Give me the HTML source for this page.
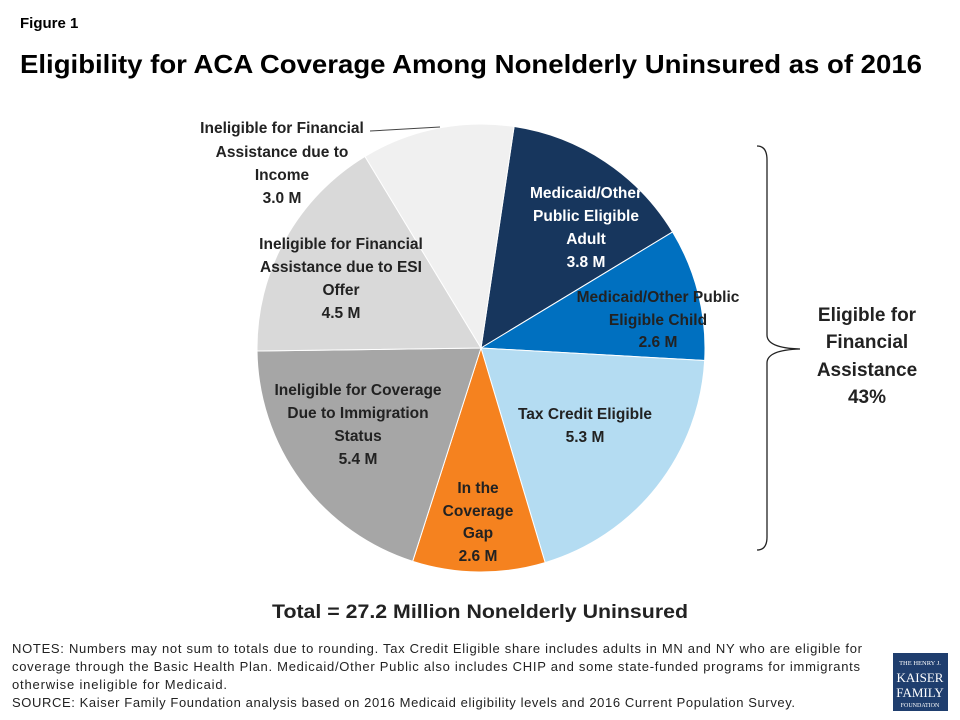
<!DOCTYPE html>
<html><head><meta charset="utf-8"><style>
html,body{margin:0;padding:0;background:#fff;}
body{width:960px;height:720px;position:relative;overflow:hidden;font-family:"Liberation Sans",Arial,sans-serif;}
</style></head><body>
<svg id="s" width="960" height="720" style="position:absolute;left:0;top:0" font-family="Liberation Sans, Arial, sans-serif">
<text x="20" y="28" font-size="15" font-weight="bold">Figure 1</text>
<text x="20" y="73" font-size="26" font-weight="bold" textLength="902" lengthAdjust="spacingAndGlyphs">Eligibility for ACA Coverage Among Nonelderly Uninsured as of 2016</text>
<g id="pie"></g>
<line x1="370" y1="131" x2="440" y2="127" stroke="#444" stroke-width="1"/>
<path d="M757,146 Q767,146 767,160 L767,335 Q767,348 800,349 Q767,350 767,363 L767,537 Q767,550 757,550" fill="none" stroke="#222" stroke-width="1.3"/>
<g font-size="15.5" font-weight="bold" text-anchor="middle" fill="#222">
<text x="282" y="133">Ineligible for Financial</text>
<text x="282" y="157">Assistance due to</text>
<text x="282" y="180">Income</text>
<text x="282" y="203">3.0 M</text>
<text x="341" y="249">Ineligible for Financial</text>
<text x="341" y="272">Assistance due to ESI</text>
<text x="341" y="295">Offer</text>
<text x="341" y="318">4.5 M</text>
<text x="358" y="395">Ineligible for Coverage</text>
<text x="358" y="418">Due to Immigration</text>
<text x="358" y="441">Status</text>
<text x="358" y="464">5.4 M</text>
<text x="478" y="493">In the</text>
<text x="478" y="516">Coverage</text>
<text x="478" y="538">Gap</text>
<text x="478" y="561">2.6 M</text>
<text x="585" y="419">Tax Credit Eligible</text>
<text x="585" y="442">5.3 M</text>
<g fill="#fff">
<text x="586" y="198">Medicaid/Other</text>
<text x="586" y="221">Public Eligible</text>
<text x="586" y="244">Adult</text>
<text x="586" y="267">3.8 M</text>
</g>
<text x="658" y="302">Medicaid/Other Public</text>
<text x="658" y="325">Eligible Child</text>
<text x="658" y="347">2.6 M</text>
</g>
<g font-size="19" font-weight="bold" text-anchor="middle" fill="#222">
<text x="867" y="321">Eligible for</text>
<text x="867" y="348">Financial</text>
<text x="867" y="376">Assistance</text>
<text x="867" y="403">43%</text>
</g>
<text x="272" y="618" font-size="19" font-weight="bold" fill="#222" textLength="416" lengthAdjust="spacingAndGlyphs">Total = 27.2 Million Nonelderly Uninsured</text>
<g font-size="13" fill="#222" lengthAdjust="spacingAndGlyphs">
<text x="12" y="653" textLength="850">NOTES: Numbers may not sum to totals due to rounding. Tax Credit Eligible share includes adults in MN and NY who are eligible for</text>
<text x="12" y="671" textLength="848">coverage through the Basic Health Plan. Medicaid/Other Public also includes CHIP and some state-funded programs for immigrants</text>
<text x="12" y="689" textLength="215">otherwise ineligible for Medicaid.</text>
<text x="12" y="707" textLength="783">SOURCE: Kaiser Family Foundation analysis based on 2016 Medicaid eligibility levels and 2016 Current Population Survey.</text>
</g>
<rect x="893" y="653" width="55" height="58" fill="#1f3e6e"/>
<g fill="#fff" text-anchor="middle" font-family="Liberation Serif, serif">
<text x="920" y="665" font-size="6.5">THE HENRY J.</text>
<text x="920" y="682" font-size="13">KAISER</text>
<text x="920" y="697" font-size="13">FAMILY</text>
<text x="920" y="707" font-size="6">FOUNDATION</text>
</g>
</svg>
<script>
var cx=481,cy=348,r=224,a=8.5;
var d=[[3.8,"#17365d"],[2.6,"#0070c0"],[5.3,"#b4dcf2"],[2.6,"#f5821f"],[5.4,"#a6a6a6"],[4.5,"#d9d9d9"],[3.0,"#f0f0f0"]];
var tot=27.2,h="";
function p(deg){var t=deg*Math.PI/180;return (cx+r*Math.sin(t)).toFixed(2)+","+(cy-r*Math.cos(t)).toFixed(2);}
d.forEach(function(s){var sw=s[0]/tot*360;var b=a+sw;
h+='<path d="M'+cx+','+cy+' L'+p(a)+' A'+r+','+r+' 0 '+(sw>180?1:0)+' 1 '+p(b)+' Z" fill="'+s[1]+'" stroke="#fff" stroke-width="1"/>';a=b;});
document.getElementById("pie").innerHTML=h;
</script>
</body></html>
